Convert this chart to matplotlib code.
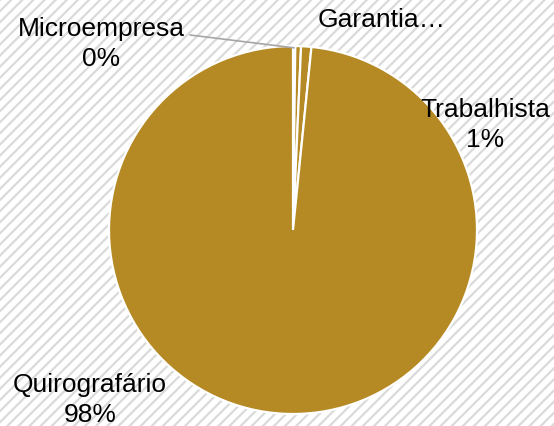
import matplotlib
matplotlib.use("Agg")
import matplotlib.pyplot as plt
from matplotlib.patches import Rectangle
import numpy as np

plt.rcParams['font.family'] = ['Liberation Sans', 'DejaVu Sans']
plt.rcParams['hatch.linewidth'] = 1.6

# data (share of total, %)
categories = ["Microempresa", "Garantia Real", "Trabalhista", "Quirografário"]
shown_names = ["Microempresa", "Garantia…", "Trabalhista", "Quirografário"]
values = [0.2, 0.5, 0.9, 98.4]
show_pct = [True, False, True, True]

gold = "#B58A24"

fig = plt.figure(figsize=(5.54, 4.27), dpi=100)

# striped background
bg = Rectangle((0, 0), 1, 1, transform=fig.transFigure, facecolor="white",
               edgecolor="#DADADA", hatch="///", linewidth=0, zorder=-10)
fig.patches.append(bg)

ax = fig.add_axes([109 / 554, 12 / 427, 368 / 554, 368 / 427])
ax.set_facecolor("none")
wedges, _ = ax.pie(values, colors=[gold] * len(values), startangle=90,
                   counterclock=False, radius=1.0,
                   wedgeprops=dict(edgecolor="white", linewidth=1.6))
ax.set_xlim(-1, 1)
ax.set_ylim(-1, 1)
ax.set_aspect("equal")
ax.axis("off")

total = sum(values)
labels = []
for name, v, sp in zip(shown_names, values, show_pct):
    if sp:
        labels.append(f"{name}\n{v / total * 100:.0f}%")
    else:
        labels.append(name)

# label positions in figure fraction
label_pos = [(101 / 554, 1 - 44 / 427), (382 / 554, 1 - 20 / 427),
             (485 / 554, 1 - 125 / 427), (90 / 554, 1 - 400 / 427)]

for lab, pos in zip(labels, label_pos):
    fig.text(pos[0], pos[1], lab, ha="center", va="center", fontsize=19,
             linespacing=1.3, color="black")

# leader line for the smallest slice
w = wedges[0]
mid = np.deg2rad((w.theta1 + w.theta2) / 2)
ax.annotate("", xy=(np.cos(mid) * 0.99, np.sin(mid) * 0.99),
            xytext=(190 / 554, 1 - 36 / 427), textcoords="figure fraction",
            arrowprops=dict(arrowstyle="-", color="#A6A6A6", lw=1.2,
                            shrinkA=0, shrinkB=0))

fig.savefig("out.png", dpi=100)
